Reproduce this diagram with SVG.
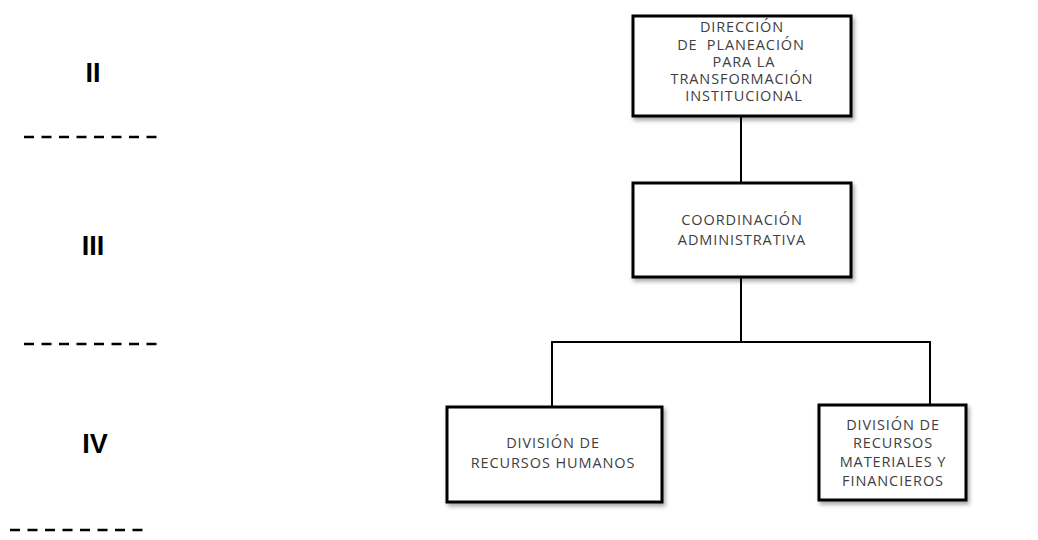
<svg xmlns="http://www.w3.org/2000/svg" width="1038" height="540" viewBox="0 0 1038 540">
<defs>
<filter id="sh" x="-10%" y="-10%" width="125%" height="130%">
<feGaussianBlur in="SourceAlpha" stdDeviation="2"/>
<feOffset dx="2" dy="3" result="b"/>
<feComponentTransfer><feFuncA type="linear" slope="0.35"/></feComponentTransfer>
<feMerge><feMergeNode/><feMergeNode in="SourceGraphic"/></feMerge>
</filter>
</defs>
<style>
.box{fill:#fff;stroke:#000;stroke-width:3;filter:url(#sh)}
.t{font-family:"Open Sans","Liberation Sans",sans-serif;font-size:14.5px;fill:#404040;text-anchor:middle;letter-spacing:0.9px}
.lv{font-family:"Liberation Sans",Arial,sans-serif;font-size:27px;font-weight:bold;fill:#000;text-anchor:middle}
.dash{stroke:#000;stroke-width:2.5;stroke-dasharray:10 7.5;fill:none}
.c{stroke:#000;stroke-width:2;fill:none}
</style>
<rect width="1038" height="540" fill="#fff"/>
<g id="levels">
<text class="lv" x="93" y="82">II</text>
<text class="lv" x="93" y="255">III</text>
<text class="lv" x="95" y="453">IV</text>
<line class="dash" x1="24" y1="137" x2="158" y2="137"/>
<line class="dash" x1="24" y1="344" x2="158" y2="344"/>
<line class="dash" x1="10" y1="530" x2="144" y2="530"/>
</g>
<g id="connectors">
<line class="c" x1="741" y1="117" x2="741" y2="183"/>
<line class="c" x1="741" y1="277" x2="741" y2="342"/>
<line class="c" x1="552" y1="342" x2="930" y2="342"/>
<line class="c" x1="552" y1="341" x2="552" y2="407"/>
<line class="c" x1="930" y1="341" x2="930" y2="405"/>
</g>
<g id="n1">
<rect class="box" x="633" y="16" width="218" height="100"/>
<text class="t" x="742" y="32">DIRECCIÓN</text>
<text class="t" x="741" y="50">DE&#160; PLANEACIÓN</text>
<text class="t" x="744" y="67">PARA LA</text>
<text class="t" x="742" y="84">TRANSFORMACIÓN</text>
<text class="t" x="744" y="101">INSTITUCIONAL</text>
</g>
<g id="n2">
<rect class="box" x="633" y="183" width="218" height="94"/>
<text class="t" x="742" y="225">COORDINACIÓN</text>
<text class="t" x="742" y="245">ADMINISTRATIVA</text>
</g>
<g id="n3">
<rect class="box" x="447" y="407" width="215" height="95"/>
<text class="t" x="553" y="448">DIVISIÓN DE</text>
<text class="t" x="553" y="468">RECURSOS HUMANOS</text>
</g>
<g id="n4">
<rect class="box" x="819" y="405" width="147" height="95"/>
<text class="t" x="893" y="430">DIVISIÓN DE</text>
<text class="t" x="893" y="448">RECURSOS</text>
<text class="t" x="893" y="467">MATERIALES Y</text>
<text class="t" x="893" y="486">FINANCIEROS</text>
</g>
</svg>
